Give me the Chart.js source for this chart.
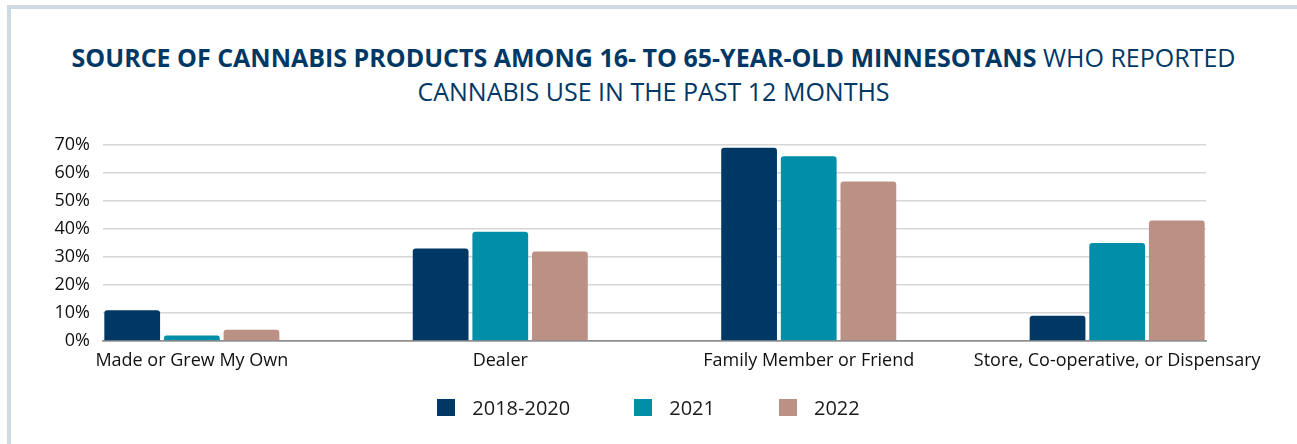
<!DOCTYPE html>
<html>
<head>
<meta charset="utf-8">
<script src="https://cdn.jsdelivr.net/npm/chart.js@4.4.1/dist/chart.umd.min.js"></script>
<style>
    html, body {
        margin: 0;
        padding: 0;
        background: #fff;
        overflow: hidden;
    }

    #page {
        position: relative;
        width: 1297px;
        height: 444px;
        font-family: 'Open Sans', sans-serif;
    }

    #frame {
        position: absolute;
        left: 7px;
        top: 5px;
        width: 1400px;
        height: 500px;
        border-left: 4px solid #cdd9e3;
        border-top: 4px solid #cdd9e3;
    }

    #title {
        position: absolute;
        left: 10px;
        top: 40px;
        width: 1287px;
        text-align: center;
        color: #003865;
        font-size: 25px;
        line-height: 34px;
    }

    #title b {
        font-weight: 700;
    }

    #chart {
        position: absolute;
        left: 0;
        top: 0;
    }

    #legend {
        position: absolute;
        left: 0;
        top: 394px;
        width: 1297px;
        display: flex;
        justify-content: center;
        font-size: 20px;
        color: #1a1a1a;
    }

    .legend-item {
        display: flex;
        align-items: center;
        margin: 0 32px;
    }

    .legend-box {
        width: 18px;
        height: 17px;
        margin-right: 17px;
    }
</style>
</head>
<body>
<div id="page">
    <div id="frame"></div>
    <div id="title">
        <b>SOURCE OF CANNABIS PRODUCTS AMONG 16- TO 65-YEAR-OLD MINNESOTANS</b> WHO REPORTED<br>
        CANNABIS USE IN THE PAST 12 MONTHS
    </div>
    <canvas id="chart" width="1297" height="444"></canvas>
    <div id="legend"></div>
</div>

<script>
const categories = ['Made or Grew My Own', 'Dealer', 'Family Member or Friend', 'Store, Co-operative, or Dispensary'];
const seriesLabels = ['2018-2020', '2021', '2022'];

// percent of respondents
const values2018to2020 = [11, 33, 69, 9];
const values2021 = [2, 39, 66, 35];
const values2022 = [4, 32, 57, 43];

const yMax = 70;
const yStep = 10;

const seriesValues = [values2018to2020, values2021, values2022];
const seriesColors = ['#003865', '#008ea9', '#bc9185'];

// x is a linear axis so the groups can sit closer to the plot edges than a category axis allows
const edgeGap = 0.288;

const datasets = seriesLabels.map((label, i) => {
    return {
        label: label,
        data: seriesValues[i].map((v, idx) => ({ x: idx, y: v })),
        backgroundColor: seriesColors[i],
        borderRadius: { topLeft: 3, topRight: 3 },
        borderSkipped: 'start',
        categoryPercentage: 0.58,
        barPercentage: 0.935
    };
});

const tickFont = { family: "'Open Sans', sans-serif", size: 18 };

const chart = new Chart(
    document.getElementById('chart'),
    {
        type: 'bar',
        data: {
            datasets: datasets
        },
        options: {
            responsive: false,
            animation: false,
            layout: {
                padding: { left: 0, right: 91, top: 145, bottom: 73 }
            },
            plugins: {
                legend: {
                    display: false
                },
                title: {
                    display: false
                },
                tooltip: {
                    enabled: false
                }
            },
            scales: {
                x: {
                    type: 'linear',
                    offset: false,
                    min: -edgeGap,
                    max: categories.length - 1 + edgeGap,
                    afterBuildTicks: axis => {
                        axis.ticks = categories.map((_, i) => ({ value: i }));
                    },
                    afterFit: axis => {
                        axis.height = 30;
                    },
                    grid: {
                        display: false
                    },
                    border: {
                        display: true,
                        color: '#8f8f8f',
                        width: 1.5
                    },
                    ticks: {
                        callback: value => categories[value],
                        font: tickFont,
                        color: '#111',
                        padding: 1,
                        maxRotation: 0,
                        autoSkip: false
                    }
                },
                y: {
                    min: 0,
                    max: yMax,
                    afterFit: axis => {
                        axis.width = 103;
                    },
                    grid: {
                        drawTicks: false,
                        color: ctx => ctx.tick && ctx.tick.value === 0 ? '#8f8f8f' : '#d6d6d6',
                        lineWidth: 1.5
                    },
                    border: {
                        display: false
                    },
                    ticks: {
                        stepSize: yStep,
                        callback: value => value + '%',
                        font: tickFont,
                        color: '#111',
                        padding: 13
                    }
                }
            }
        }
    }
);

// html legend built from the chart datasets
const legendEl = document.getElementById('legend');
chart.data.datasets.forEach(ds => {
    const item = document.createElement('div');
    item.className = 'legend-item';

    const box = document.createElement('span');
    box.className = 'legend-box';
    box.style.background = ds.backgroundColor;

    const text = document.createElement('span');
    text.textContent = ds.label;

    item.appendChild(box);
    item.appendChild(text);
    legendEl.appendChild(item);
});
</script>
</body>
</html>
